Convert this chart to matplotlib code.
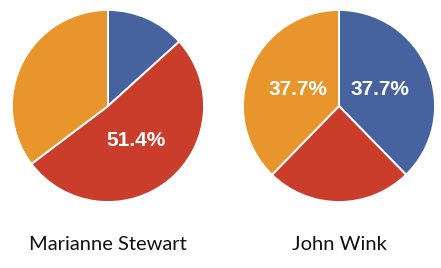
import matplotlib
matplotlib.use('Agg')
import matplotlib.pyplot as plt

# share of each candidate, clockwise from 12 o'clock: blue, red, orange
names = ['Marianne Stewart', 'John Wink']
stewart_shares = [13.3, 51.4, 35.3]
wink_shares = [37.7, 24.6, 37.7]
colors = ['#46639f', '#cb3d2b', '#e8952b']

W, H = 441, 268
fig = plt.figure(figsize=(W / 100, H / 100), dpi=100)
fig.patch.set_facecolor('white')

def draw_pie(cx, cy, r, shares, name):
    ax = fig.add_axes([(cx - r) / W, (H - cy - r) / H, 2 * r / W, 2 * r / H])
    # only the larger slices carry a label in the original
    wedges, texts, autotexts = ax.pie(
        shares, colors=colors, startangle=90, counterclock=False,
        autopct=lambda p: f'{p:.1f}%' if p > 36 else '',
        pctdistance=0.46, radius=1,
        wedgeprops=dict(edgecolor='white', linewidth=1.4),
        textprops=dict(color='white', fontsize=15, fontweight='bold',
                       family='Liberation Sans'))
    ax.set_xlim(-1.01, 1.01)
    ax.set_ylim(-1.01, 1.01)
    ax.set_aspect('equal')
    ax.axis('off')
    fig.text(cx / W, 1 - 245 / H, name, ha='center', va='center',
             fontsize=14.5, family='Lato', color='#111111')

draw_pie(108, 106, 97, stewart_shares, names[0])
draw_pie(339, 106, 97, wink_shares, names[1])

fig.savefig('out.png', dpi=100)
